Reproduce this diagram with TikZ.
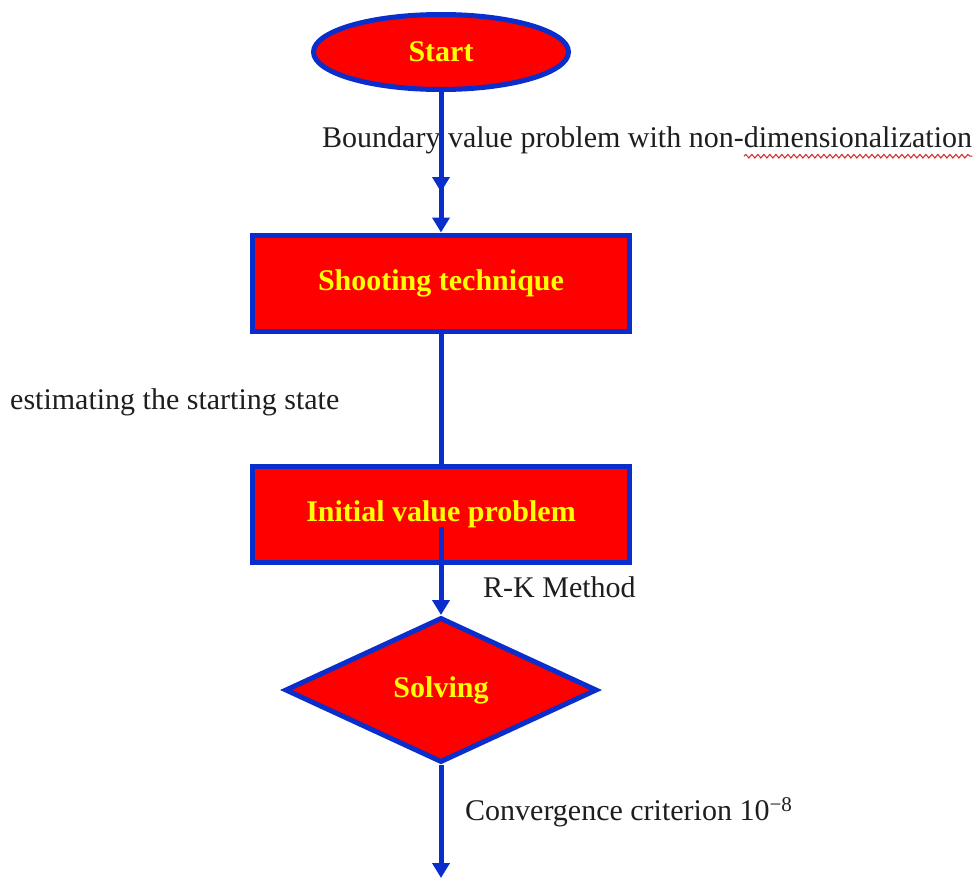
\documentclass[tikz,border=0pt]{standalone}
\usepackage{fontspec}
\setmainfont{Liberation Serif}
\usepackage{xcolor}
\usepackage{tikz}
\usetikzlibrary{arrows.meta,shapes.geometric,decorations.pathmorphing}
\definecolor{fl}{HTML}{FF0000}
\definecolor{bd}{HTML}{0A2ECC}
\definecolor{tx}{HTML}{FFFF00}
\definecolor{ink}{HTML}{1E1E1E}
\definecolor{spell}{HTML}{E02020}
\tikzset{
  shape base/.style={draw=bd, fill=fl, line width=5pt, text=tx, inner sep=0pt,
    font=\fontsize{30}{36}\selectfont\bfseries},
  term/.style={shape base, ellipse, minimum width=255pt, minimum height=75pt},
  proc/.style={shape base, rectangle, minimum width=377pt, minimum height=96pt},
  decide/.style={shape base, diamond, minimum width=312pt, minimum height=145pt},
  flow/.style={draw=bd, line width=5pt, -{Triangle[length=15pt,width=17pt]}},
  link/.style={draw=bd, line width=5pt},
  lbl/.style={anchor=west, inner sep=0pt, text=ink, font=\fontsize{30}{36}\selectfont},
  wavy/.style={draw=spell, line width=1pt, decorate,
    decoration={snake, amplitude=1.8pt, segment length=6pt}},
}
\newlength{\spellw}

\begin{document}
\settowidth{\spellw}{\fontsize{30}{36}\selectfont dimensionalization}
\begin{tikzpicture}[x=1pt,y=-1pt]
  \useasboundingbox (0,0) rectangle (977,878);
  \node[lbl] (bvp) at (322,140) {Boundary value problem with non-dimensionalization};
  \node[lbl] (guess) at (10,402) {estimating the starting state};
  \node[lbl] (rk) at (483,587) {R-K Method};
  \node[lbl] (conv) at (465,812) {Convergence criterion 10\textsuperscript{\char"2212 8}};
  \coordinate (wv0) at ([xshift=-\spellw, yshift=-9pt]bvp.base east);
  \coordinate (wv1) at ([yshift=-9pt]bvp.base east);
  \draw[wavy] (wv0) -- (wv1);

  \node[term] (start) at (441,52) {Start};
  \node[proc] (shoot) at (441,283) {Shooting technique};
  \node[proc] (ivp) at (441,514) {Initial value problem};
  \node[decide] (solve) at (441,690) {Solving};

  \coordinate (mid) at (441,192);
  \coordinate (ivpin) at (441,527);
  \coordinate (stop) at (441,878);
  \draw[flow] (start.south) -- (shoot.north);
  \draw[flow] (start.south) -- (mid);
  \draw[link] (shoot.south) -- (ivp.north);
  \draw[flow] (ivpin) -- (solve.north);
  \draw[flow] (solve.south) -- (stop);
\end{tikzpicture}
\end{document}
